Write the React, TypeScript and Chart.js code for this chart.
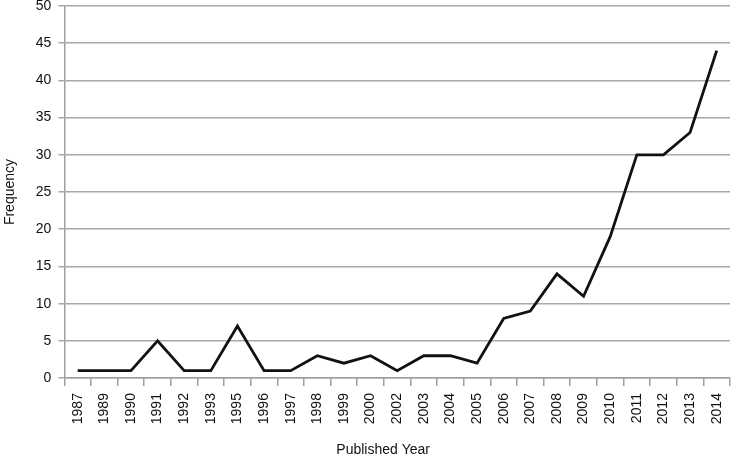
import React, { useEffect, useRef } from "react";
import { Chart, registerables } from "chart.js";

Chart.register(...registerables);

const years = ["1987","1989","1990","1991","1992","1993","1995","1996","1997","1998","1999","2000","2002","2003","2004","2005","2006","2007","2008","2009","2010","2011","2012","2013","2014"];
const frequency = [1,1,1,5,1,1,7,1,1,3,2,3,1,3,3,2,8,9,14,11,19,30,30,33,44];
const yMin = 0;
const yMax = 50;
const yStep = 5;
const xTitle = "Published Year";
const yTitle = "Frequency";

export default function App() {
  const ref = useRef<HTMLCanvasElement>(null);
  useEffect(() => {
    if (!ref.current) return;
    const family = "'Liberation Sans', Arial, sans-serif";
    const font = { family, size: 14 };
    const xTitlePlugin = {
      id: "xTitleShifted",
      afterDraw(c: any) {
        const ctx = c.ctx;
        const area = c.chartArea;
        const xs = c.scales.x;
        ctx.save();
        ctx.font = `14px ${family}`;
        ctx.fillStyle = "#111";
        ctx.textAlign = "center";
        ctx.textBaseline = "middle";
        ctx.fillText(xTitle, (area.left + area.right) / 2 - 14, xs.bottom - 5.4);
        ctx.restore();
      },
    };
    const chart = new Chart(ref.current, {
      type: "line",
      data: {
        labels: years,
        datasets: [{
          data: frequency,
          borderColor: "#111111",
          borderWidth: 2.8,
          pointRadius: 0,
          tension: 0,
          fill: false,
        }],
      },
      options: {
        animation: false,
        responsive: false,
        maintainAspectRatio: false,
        layout: { padding: { top: 6, right: 1, bottom: 0, left: 0 } },
        plugins: { legend: { display: false }, tooltip: { enabled: false } },
        scales: {
          x: {
            type: "category",
            offset: true,
            afterFit: (s: any) => { s.paddingLeft = 0; s.paddingRight = 0; },
            grid: { offset: true, drawOnChartArea: false, drawTicks: true, tickLength: 8, color: "#a0a0a0", lineWidth: 1.5 },
            border: { color: "#a0a0a0", width: 1.5 },
            ticks: { minRotation: 90, maxRotation: 90, autoSkip: false, color: "#111", font, padding: 7 },
            title: { display: true, text: xTitle, color: "rgba(0,0,0,0)", font, padding: { top: 11, bottom: -3 } },
          },
          y: {
            min: yMin,
            max: yMax,
            afterFit: (s: any) => { s.paddingTop = 0; s.paddingBottom = 0; },
            ticks: { stepSize: yStep, color: "#111", font, padding: 7 },
            grid: { color: "#a8a8a8", lineWidth: 1.5, tickLength: 6 },
            border: { color: "#a0a0a0", width: 1.5 },
            title: { display: true, text: yTitle, color: "#111", font, padding: { top: 2, bottom: 10 } },
          },
        },
      },
      plugins: [xTitlePlugin],
    });
    return () => chart.destroy();
  }, []);
  return (
    <div style={{ position: "fixed", left: 0, top: 0, width: 731, height: 456, background: "#fff" }}>
      <canvas ref={ref} width={731} height={456} style={{ width: 731, height: 456, display: "block" }} />
    </div>
  );
}
